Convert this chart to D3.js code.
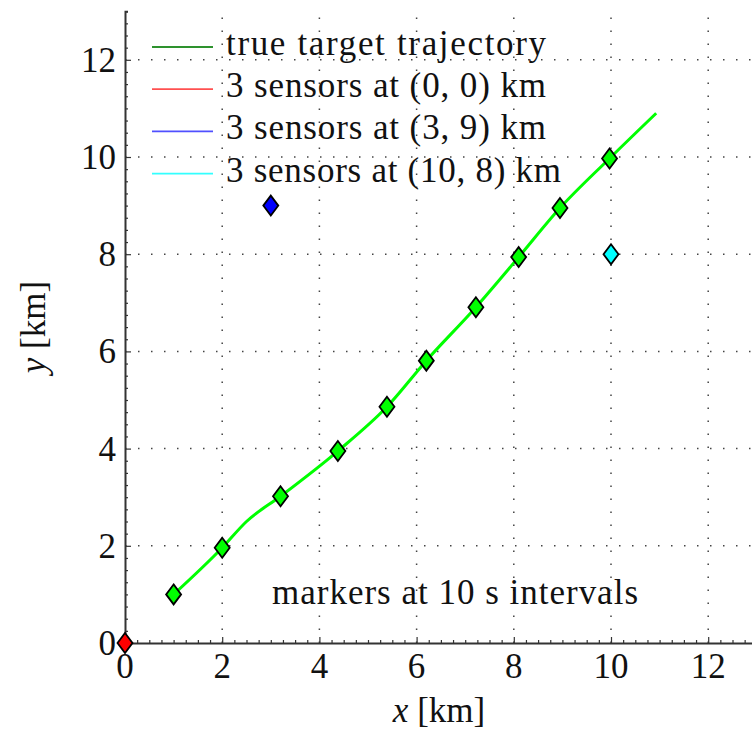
<!DOCTYPE html>
<html>
<head>
<meta charset="utf-8">
<script src="https://cdn.jsdelivr.net/npm/d3@7"></script>
<style>
  html, body { margin: 0; padding: 0; background: #fff; }
  svg text { font-family: "Liberation Serif", "DejaVu Serif", serif; fill: #111; }
</style>
</head>
<body>
<svg id="chart" width="752" height="731"></svg>
<script>
// trajectory (km)
var trackX = [1.0, 2.0, 2.5, 3.2, 4.38, 5.39, 6.2, 7.22, 8.1, 8.95, 9.97, 10.93];
var trackY = [1.0, 1.96, 2.5, 3.02, 3.95, 4.86, 5.81, 6.91, 7.94, 8.95, 9.97, 10.9];
// markers every 10 s
var markerX = [1.0, 2.0, 3.2, 4.38, 5.39, 6.2, 7.22, 8.1, 8.95, 9.97];
var markerY = [1.0, 1.96, 3.02, 3.95, 4.86, 5.81, 6.91, 7.94, 8.95, 9.97];
// sensor sites
var sensorX = [0, 3, 10];
var sensorY = [0, 9, 8];
var sensorColors = ['#ff0000', '#0000ff', '#00ffff'];
var legendLabels = ['true target trajectory', '3 sensors at (0, 0) km', '3 sensors at (3, 9) km', '3 sensors at (10, 8) km'];
var legendWidths = [320, 320, 320, 335];
var legendColors = ['#2e922e', '#ff5050', '#5050ff', '#33ffff'];
var xTicks = [0, 2, 4, 6, 8, 10, 12];
var yTicks = [0, 2, 4, 6, 8, 10, 12];

var svg = d3.select('#chart');
var padding = {l: 125, t: 11, r: 0, b: 88};
var width = 752, height = 731;

var x = d3.scaleLinear().domain([0, 13]).range([padding.l, padding.l + 13 * 48.6]);
var y = d3.scaleLinear().domain([0, 13]).range([height - padding.b, height - padding.b - 13 * 48.6]);

var gridG = svg.append('g');
gridG.selectAll('.vgrid')
  .data(xTicks.filter(d => d > 0))
  .enter().append('line')
  .attr('x1', d => x(d)).attr('x2', d => x(d))
  .attr('y1', y(0)).attr('y2', y(13))
  .attr('stroke', '#444').attr('stroke-width', 1.5)
  .attr('stroke-dasharray', '1.5,11.5');
gridG.selectAll('.hgrid')
  .data(yTicks.filter(d => d > 0))
  .enter().append('line')
  .attr('x1', x(0)).attr('x2', x(13))
  .attr('y1', d => y(d)).attr('y2', d => y(d))
  .attr('stroke', '#444').attr('stroke-width', 1.5)
  .attr('stroke-dasharray', '1.5,11.5');

// axes with inward ticks
var xAxisG = svg.append('g').attr('transform', 'translate(0,' + y(0) + ')');
xAxisG.call(d3.axisTop(x).tickValues(d3.range(0, 13.01, 0.25)).tickSize(3).tickFormat(''));
xAxisG.selectAll('.tick line').filter(d => d % 2 === 0).attr('y2', -6);
var yAxisG = svg.append('g').attr('transform', 'translate(' + x(0) + ',0)');
yAxisG.call(d3.axisRight(y).tickValues(d3.range(0, 13.01, 0.25)).tickSize(3).tickFormat(''));
yAxisG.selectAll('.tick line').filter(d => d % 2 === 0).attr('x2', 6);
[xAxisG, yAxisG].forEach(function(g) {
  g.select('.domain').attr('stroke', '#333').attr('stroke-width', 2);
  g.selectAll('.tick line').attr('stroke', '#333').attr('stroke-width', 1.2);
});

svg.append('g').selectAll('text')
  .data(xTicks).enter().append('text')
  .attr('x', d => x(d)).attr('y', y(0) + 35)
  .attr('text-anchor', 'middle')
  .attr('font-size', 35)
  .text(d => d);
svg.append('g').selectAll('text')
  .data(yTicks).enter().append('text')
  .attr('x', x(0) - 9).attr('y', d => y(d) + 12)
  .attr('text-anchor', 'end')
  .attr('font-size', 35)
  .text(d => d);

var xl = svg.append('text')
  .attr('x', 439).attr('y', 722)
  .attr('text-anchor', 'middle').attr('font-size', 35);
xl.append('tspan').attr('font-style', 'italic').text('x');
xl.append('tspan').text(' [km]');
var yl = svg.append('text')
  .attr('transform', 'translate(45,' + 327 + ') rotate(-90)')
  .attr('text-anchor', 'middle').attr('font-size', 35);
yl.append('tspan').attr('font-style', 'italic').text('y');
yl.append('tspan').text(' [km]');

// trajectory
var line = d3.line().x(d => x(d[0])).y(d => y(d[1])).curve(d3.curveMonotoneX);
svg.append('path')
  .datum(d3.zip(trackX, trackY))
  .attr('d', line)
  .attr('fill', 'none')
  .attr('stroke', '#00ff00')
  .attr('stroke-width', 3)
  .attr('stroke-linejoin', 'round');

function diamond(hw, hh) {
  return 'M0,' + (-hh) + 'L' + hw + ',0L0,' + hh + 'L' + (-hw) + ',0Z';
}

svg.append('g').selectAll('path')
  .data(d3.zip(markerX, markerY)).enter().append('path')
  .attr('transform', d => 'translate(' + [x(d[0]), y(d[1])] + ')')
  .attr('d', diamond(7.5, 10))
  .attr('fill', '#00ff00').attr('stroke', '#000').attr('stroke-width', 1.8);

svg.append('g').selectAll('path')
  .data(d3.zip(sensorX, sensorY, sensorColors)).enter().append('path')
  .attr('transform', d => 'translate(' + [x(d[0]), y(d[1])] + ')')
  .attr('d', diamond(7.5, 10))
  .attr('fill', d => d[2]).attr('stroke', '#000').attr('stroke-width', 1.8);

svg.append('text')
  .attr('x', 272).attr('y', y(0.8))
  .attr('font-size', 35)
  .attr('textLength', 366).attr('lengthAdjust', 'spacing')
  .text('markers at 10 s intervals');

// legend
var legG = svg.append('g').attr('transform', 'translate(152,47)');
var rows = legG.selectAll('g').data(legendLabels).enter().append('g')
  .attr('transform', (d, i) => 'translate(0,' + i * 42.2 + ')');
rows.append('line')
  .attr('x1', 0).attr('x2', 61)
  .attr('stroke', (d, i) => legendColors[i]).attr('stroke-width', 1.8);
rows.append('text')
  .attr('x', 74).attr('y', 8)
  .attr('font-size', 35)
  .attr('textLength', (d, i) => legendWidths[i]).attr('lengthAdjust', 'spacing')
  .text(d => d);
</script>
</body>
</html>
